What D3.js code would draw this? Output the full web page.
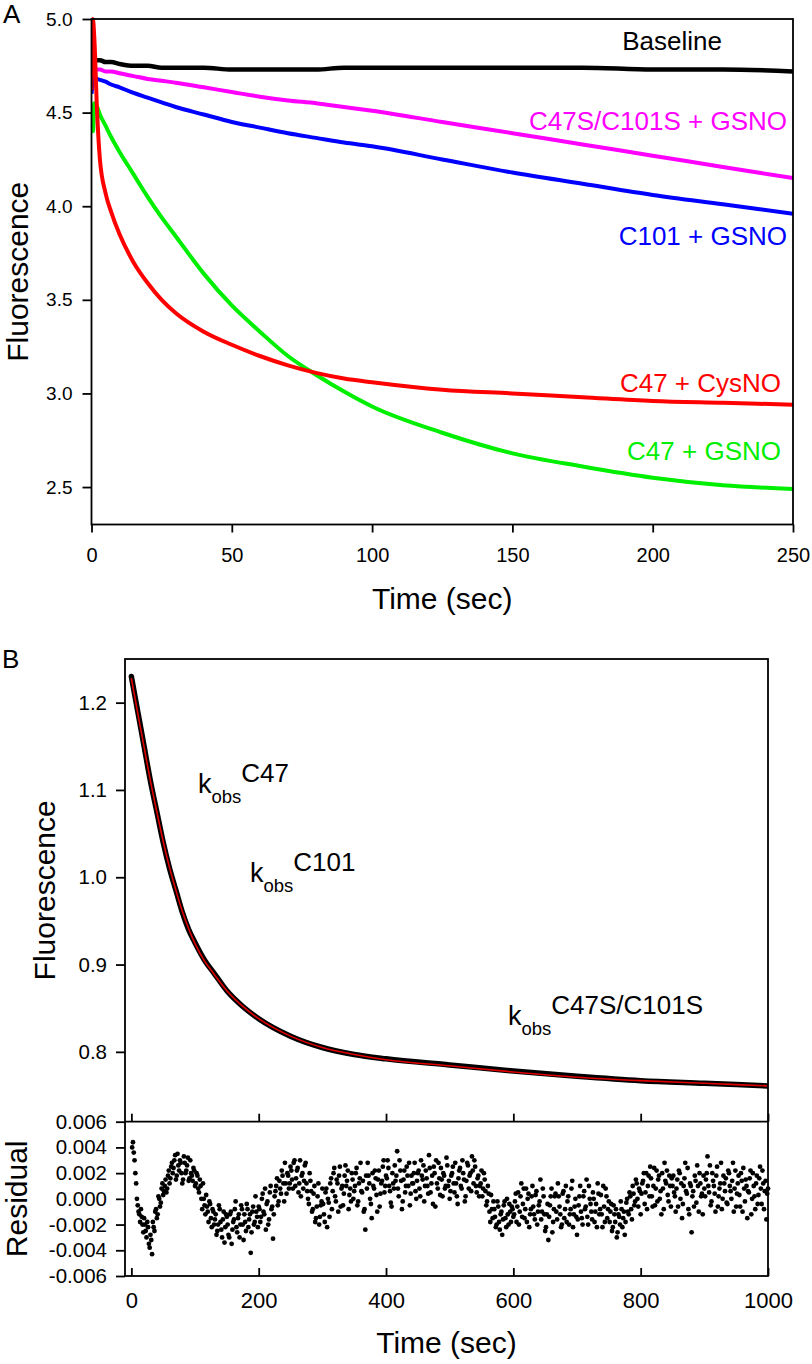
<!DOCTYPE html>
<html><head><meta charset="utf-8">
<script src="https://cdn.jsdelivr.net/npm/d3@7"></script>
<style>
html,body{margin:0;padding:0;background:#fff;}
svg{display:block;font-family:"Liberation Sans",Arial,Helvetica,sans-serif;}
</style></head><body>
<svg id="chart" width="812" height="1364"></svg>
<script>
// ---------------- Panel A data ----------------
const timeA = [0,0.5,1,2,3,5,7,10,15,20,25,30,40,50,60,70,80,90,100,125,150,175,200,225,250];
const baselineA = [4.80,4.79,4.78,4.78,4.78,4.77,4.77,4.76,4.75,4.75,4.74,4.74,4.74,4.73,4.73,4.73,4.73,4.74,4.74,4.74,4.74,4.74,4.73,4.73,4.72];
const c47sc101sGSNO = [4.62,4.72,4.74,4.73,4.73,4.72,4.72,4.71,4.695,4.68,4.67,4.66,4.635,4.61,4.585,4.565,4.55,4.53,4.51,4.45,4.39,4.33,4.27,4.21,4.15];
const c101GSNO = [4.60,4.66,4.68,4.68,4.675,4.665,4.65,4.635,4.605,4.58,4.555,4.53,4.49,4.45,4.42,4.39,4.365,4.34,4.32,4.25,4.18,4.12,4.06,4.01,3.96];
const c47GSNO = [4.55,4.40,4.55,4.53,4.49,4.43,4.37,4.29,4.17,4.05,3.94,3.84,3.64,3.47,3.33,3.20,3.10,3.01,2.93,2.79,2.68,2.61,2.55,2.51,2.49];
const c47CysNO = [4.62,5.00,4.90,4.50,4.25,4.07,3.97,3.85,3.70,3.59,3.50,3.43,3.33,3.26,3.20,3.15,3.11,3.08,3.06,3.02,3.00,2.98,2.96,2.95,2.94];
const seriesNamesA = ["Baseline","C47S/C101S + GSNO","C101 + GSNO","C47 + CysNO","C47 + GSNO"];
const seriesColorsA = ["#000000","#ff00ff","#0000ff","#ff0000","#00ee00"];
const xTicksA = [0,50,100,150,200,250];
const yTicksA = [2.5,3.0,3.5,4.0,4.5,5.0];

// ---------------- Panel B data ----------------
const timeB = [0,10,20,30,40,50,60,70,80,90,100,115,130,150,175,200,250,300,350,400,500,600,700,800,900,1000];
const fluorB = [1.230,1.190,1.150,1.110,1.075,1.040,1.010,0.985,0.960,0.940,0.925,0.905,0.890,0.870,0.852,0.838,0.818,0.805,0.797,0.792,0.785,0.778,0.772,0.767,0.764,0.761];
const fitB   = [1.228,1.188,1.149,1.110,1.075,1.041,1.011,0.985,0.961,0.941,0.924,0.904,0.889,0.870,0.852,0.838,0.818,0.805,0.797,0.791,0.784,0.777,0.771,0.767,0.764,0.761];
const xTicksB = [0,200,400,600,800,1000];
const yTicksB = [0.8,0.9,1.0,1.1,1.2];
const yTicksRes = [-0.006,-0.004,-0.002,0.000,0.002,0.004,0.006];
// residuals in units of 1e-4; set 1 every 2.5 s from 2.5 s, set 2 every 2.5 s from 1.25 s
const residualE4 = [
 44,30,12,-5,-12,-8,-20,-15,-25,-18,-35,-28,-43,-22,-10,-15,2,-6,8,3,
 10,5,18,12,25,20,30,15,35,22,28,12,33,20,26,14,30,18,24,10,
 20,8,15,0,12,-5,3,-10,-2,-15,-8,-20,-12,-25,-5,-18,-30,-10,-22,-14,
 -28,-12,-35,-18,-8,-22,-15,-30,-5,-20,-12,-25,-8,-16,-42,-10,-20,2,-14,-6,
 -18,0,-10,8,-4,-20,5,-8,-31,2,10,-5,14,4,18,-2,12,20,8,25,
 15,28,10,22,5,30,18,8,26,12,0,20,6,-8,10,-15,2,-20,-5,8,
 -12,5,-22,-3,12,-8,20,2,15,-10,25,8,-5,18,10,22,3,-2,15,6,
 20,-5,12,28,5,-10,-24,8,18,0,-15,10,22,3,15,-6,12,25,5,18,
 30,10,-3,20,8,14,37,2,22,-8,15,5,25,10,-5,18,12,28,0,20,
 8,30,15,-2,22,10,34,5,18,25,-6,12,28,3,15,20,8,32,10,0,
 18,25,5,12,-4,22,10,30,15,2,28,8,20,33,12,25,5,18,10,22,
 8,15,-5,10,-10,3,-15,-8,-22,-2,-18,-12,-28,-5,-15,0,-20,-10,-6,-14,
 -2,-18,5,-10,12,-4,-15,8,0,-22,-8,10,-12,3,-20,-5,15,-10,2,-25,
 -12,-32,-5,8,-18,2,-10,12,-6,-22,4,-15,10,-2,-20,-8,14,-12,0,-28,
 -5,10,-15,2,-8,15,-20,0,-10,5,-18,-4,12,-12,3,-22,-6,8,-15,-2,
 -10,-25,-5,-18,-30,-12,-20,-8,-15,-28,-3,-10,5,-8,10,-5,15,0,8,-12,
 12,20,5,-8,18,25,2,10,-5,22,15,0,-12,8,28,12,3,18,-6,10,
 5,-10,15,22,0,-15,10,28,4,-8,12,-26,6,18,-3,10,20,2,-12,8,
 15,33,5,-5,20,10,-10,25,2,12,-8,18,6,-3,22,10,0,28,8,-6,
 12,3,20,-10,8,15,-15,5,22,0,10,-8,18,3,25,-4,12,6,-16,8
];
const residualE4b = [
 40,36,20,0,-10,-18,-14,-26,-20,-30,-22,-38,-32,-18,-25,-8,-12,0,-3,12,
 6,15,8,22,16,28,24,34,18,26,30,20,15,28,22,32,16,20,14,22,
 12,18,5,10,-8,0,-12,-6,-18,-4,-22,-10,-16,-28,-20,-8,-24,-16,-34,-12,
 -20,-30,-10,-24,-16,-2,-26,-12,-20,-8,-32,-18,-4,-22,-12,-26,-6,-18,-10,-22,
 -8,-14,4,-12,-24,-2,-16,10,-6,-12,6,16,-2,8,22,12,28,4,18,12,
 22,8,30,16,24,12,2,20,14,28,6,-4,14,-10,4,-18,-6,12,-14,-2,
 -4,-18,8,0,-14,16,6,24,-2,12,18,-6,10,4,26,14,-8,8,20,0,
 10,24,-2,16,6,14,-8,18,28,12,-4,20,8,16,-10,22,4,14,30,10,
 16,24,6,-6,12,26,18,8,30,14,-2,22,10,18,28,4,12,20,6,14,
 22,2,18,26,10,16,4,24,12,-4,20,30,8,16,24,2,18,10,26,14,
 6,20,12,28,2,16,24,8,20,-2,14,26,18,6,22,30,10,16,2,12,
 2,20,6,-2,4,-18,-8,-2,-14,-20,-6,-24,-10,-16,-2,-22,-12,-4,-18,-8,
 -12,4,-6,-20,2,-14,8,-8,-18,4,-12,2,-6,-16,6,-10,-2,-16,8,-12,
 -22,-4,-14,2,-26,-8,4,-16,2,-12,-20,6,-8,-18,2,-12,8,-22,-6,-14,
 -16,2,-10,-20,6,-6,-14,10,-4,-16,0,-10,-22,4,-8,-12,10,-18,2,-8,
 -18,-4,-22,-12,-8,-26,-14,-2,-22,-10,-18,0,-12,2,-16,4,-2,12,-6,6,
 4,14,-4,20,10,2,16,-6,24,8,-2,18,6,20,-8,14,22,-2,10,16,
 18,2,8,-6,20,12,-4,16,6,24,-12,10,2,-6,14,26,-10,12,4,18,
 2,20,10,26,-2,14,4,18,-6,8,28,0,12,16,-4,20,6,14,-10,22,
 4,18,-6,14,24,-2,10,6,16,-12,20,2,12,-4,16,8,22,-8,14,4
];
const residualStep = 2.5;

// ---------------- Drawing ----------------
const svg = d3.select("#chart");
const FONT = '"Liberation Sans",Arial,Helvetica,sans-serif';
const AXW = 1.8;

function styleAxis(g, fontSize){
  g.select(".domain").remove();
  g.selectAll(".tick line").attr("stroke","#000").attr("stroke-width",AXW);
  g.selectAll(".tick text").attr("fill","#000").attr("font-size",fontSize).attr("font-family",FONT);
}

// ===== Panel A =====
const A = {l:91.5, r:793, t:19, b:524.5};
const xA = d3.scaleLinear().domain([0,250]).range([A.l,A.r]);
const yA = d3.scaleLinear().domain([2.3,5.0]).range([A.b,A.t]);

const gA = svg.append("g");
svg.append("clipPath").attr("id","clipA").append("rect")
  .attr("x",A.l).attr("y",A.t-2).attr("width",A.r-A.l).attr("height",A.b-A.t+2);

const seriesA = [baselineA,c47sc101sGSNO,c101GSNO,c47CysNO,c47GSNO];
const lineA = d3.line().x((d,i)=>xA(timeA[i])).y(d=>yA(d)).curve(d3.curveMonotoneX);
const drawOrder = [4,0,1,2,3];
drawOrder.forEach(k=>{
  gA.append("path").datum(seriesA[k]).attr("d",lineA)
    .attr("fill","none").attr("stroke",seriesColorsA[k]).attr("stroke-width",k===0?4.5:4)
    .attr("stroke-linejoin","round").attr("clip-path","url(#clipA)");
});

gA.append("g").attr("transform",`translate(0,${A.b})`)
  .call(d3.axisBottom(xA).tickValues(xTicksA).tickFormat(d3.format("d")).tickSizeInner(8).tickSizeOuter(0).tickPadding(15))
  .call(g=>styleAxis(g,"20px"));
gA.append("g").attr("transform",`translate(${A.l},0)`)
  .call(d3.axisLeft(yA).tickValues(yTicksA).tickFormat(d3.format(".1f")).tickSizeInner(9).tickSizeOuter(0).tickPadding(10))
  .call(g=>styleAxis(g,"19px"));
gA.append("rect").attr("x",A.l).attr("y",A.t).attr("width",A.r-A.l).attr("height",A.b-A.t)
  .attr("fill","none").attr("stroke","#000").attr("stroke-width",AXW);

const labelPosA = [
  {k:0, x:722, y:50},
  {k:1, x:787, y:130},
  {k:2, x:787, y:245},
  {k:3, x:781, y:392},
  {k:4, x:781, y:460}
];
labelPosA.forEach(p=>{
  gA.append("text").attr("x",p.x).attr("y",p.y).attr("text-anchor","end")
    .attr("font-size","26px").attr("fill",seriesColorsA[p.k]).text(seriesNamesA[p.k]);
});

gA.append("text").attr("x",(A.l+A.r)/2).attr("y",609).attr("text-anchor","middle")
  .attr("font-size","30px").text("Time (sec)");
gA.append("text").attr("transform",`translate(28,${(A.t+A.b)/2}) rotate(-90)`).attr("text-anchor","middle")
  .attr("font-size","30px").text("Fluorescence");
svg.append("text").attr("x",3).attr("y",23).attr("font-size","26px").text("A");

// ===== Panel B =====
const B = {l:125, r:768, t:659, m:1121.7, b:1276};
const xB = d3.scaleLinear().domain([-10,1000]).range([B.l,B.r]);
const yB = d3.scaleLinear().domain([0.72,1.25]).range([B.m,B.t]);
const yR = d3.scaleLinear().domain([-0.006,0.006]).range([B.b,B.m]);

const gB = svg.append("g");
svg.append("clipPath").attr("id","clipB").append("rect")
  .attr("x",B.l).attr("y",B.t).attr("width",B.r-B.l).attr("height",B.m-B.t);

const lineB = d3.line().x((d,i)=>xB(timeB[i])).y(d=>yB(d)).curve(d3.curveMonotoneX);
gB.append("path").datum(fluorB).attr("d",lineB).attr("fill","none")
  .attr("stroke","#000").attr("stroke-width",5.5).attr("stroke-linecap","round").attr("clip-path","url(#clipB)");
gB.append("path").datum(fitB).attr("d",lineB).attr("fill","none")
  .attr("stroke","#e00000").attr("stroke-width",1.6).attr("clip-path","url(#clipB)");

const resPts = residualE4.map((v,i)=>({t:residualStep*(i+1), v:v/1e4}))
  .concat(residualE4b.map((v,i)=>({t:residualStep*i+1.25, v:v/1e4})));
gB.append("g").selectAll("circle").data(resPts).join("circle")
  .attr("cx",d=>xB(d.t)).attr("cy",d=>yR(d.v))
  .attr("r",2.4).attr("fill","#000");

const fmtRes = d=>d3.format(".3f")(d).replace("\u2212","-");
gB.append("g").attr("transform",`translate(${B.l},0)`)
  .call(d3.axisLeft(yB).tickValues(yTicksB).tickFormat(d3.format(".1f")).tickSizeInner(9).tickSizeOuter(0).tickPadding(9))
  .call(g=>styleAxis(g,"20.5px"));
gB.append("g").attr("transform",`translate(${B.l},0)`)
  .call(d3.axisLeft(yR).tickValues(yTicksRes).tickFormat(fmtRes).tickSizeInner(9).tickSizeOuter(0).tickPadding(9))
  .call(g=>styleAxis(g,"20.5px"));
gB.append("g").attr("transform",`translate(0,${B.m})`)
  .call(d3.axisBottom(xB).tickValues(xTicksB).tickFormat("").tickSizeInner(-8).tickSizeOuter(0))
  .call(g=>styleAxis(g,"20px"));
gB.append("g").attr("transform",`translate(0,${B.b})`)
  .call(d3.axisBottom(xB).tickValues(xTicksB).tickFormat(d3.format("d")).tickSizeInner(-8).tickSizeOuter(0).tickPadding(16))
  .call(g=>styleAxis(g,"22px"));
gB.append("rect").attr("x",B.l).attr("y",B.t).attr("width",B.r-B.l).attr("height",B.b-B.t)
  .attr("fill","none").attr("stroke","#000").attr("stroke-width",AXW);
gB.append("line").attr("x1",B.l).attr("x2",B.r).attr("y1",B.m).attr("y2",B.m)
  .attr("stroke","#000").attr("stroke-width",AXW);

const kobsLabels = [
  {x:198, y:793, sup:"C47"},
  {x:250, y:882, sup:"C101"},
  {x:508, y:1025, sup:"C47S/C101S"}
];
kobsLabels.forEach(p=>{
  const t = gB.append("text").attr("x",p.x).attr("y",p.y).attr("font-size","27px");
  t.append("tspan").text("k");
  t.append("tspan").attr("font-size","18.5px").attr("dy",10).text("obs");
  t.append("tspan").attr("font-size","26px").attr("dy",-21).text(p.sup);
});

gB.append("text").attr("x",(B.l+B.r)/2).attr("y",1353).attr("text-anchor","middle")
  .attr("font-size","30px").text("Time (sec)");
gB.append("text").attr("transform",`translate(55,${(B.t+B.m)/2}) rotate(-90)`).attr("text-anchor","middle")
  .attr("font-size","30px").text("Fluorescence");
gB.append("text").attr("transform",`translate(27,${(B.m+B.b)/2}) rotate(-90)`).attr("text-anchor","middle")
  .attr("font-size","30px").text("Residual");
svg.append("text").attr("x",2).attr("y",668).attr("font-size","26px").text("B");
</script>
</body></html>
